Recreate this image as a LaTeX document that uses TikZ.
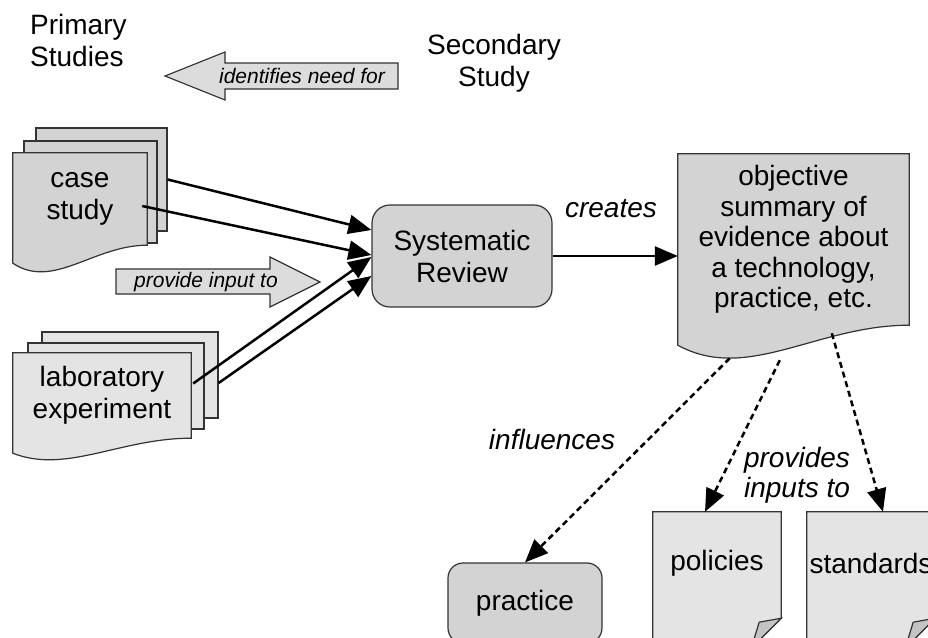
\documentclass[tikz,border=0pt]{standalone}
\usepackage{fontspec}
\setmainfont{Liberation Sans}
\usepackage{xcolor}
\usepackage{tikz}
\usetikzlibrary{arrows.meta}
\usetikzlibrary{positioning}
\usetikzlibrary{calc,backgrounds}

\definecolor{pagegray}{HTML}{D3D3D3}
\definecolor{lightpage}{HTML}{E4E4E4}
\definecolor{edgegray}{HTML}{333333}
\definecolor{foldgray}{HTML}{C4C4C4}
\definecolor{arrowgray}{HTML}{DCDCDC}

% outline of a document sheet with a wavy lower edge
\newcommand{\docoutline}[3]{(#1.north west) -- (#1.north east) -- (#1.south east)
  .. controls ($(#1.south east)!0.4!(#1.south west)$)
  and ($(#1.south west)!0.3!(#1.south east)+(0,#2+#3)$) .. ($(#1.south west)+(0,#2)$) -- cycle}

\begin{document}
\begin{tikzpicture}[x=1pt, y=-1pt,
  every node/.style={font=\fontsize{28}{32}\selectfont, align=center, inner sep=0pt},
  box/.style={draw=edgegray, line width=1.2pt, fill=pagegray, rounded corners=18pt},
  sheet/.style={draw=edgegray, line width=1.2pt, fill=#1},
  sheet/.default=pagegray,
  flow/.style={line width=2.5pt, -{Triangle[length=23pt,width=19pt]}},
  hint/.style={flow, dash pattern=on 6pt off 4pt},
  tag/.style={font=\fontsize{28}{30}\selectfont\itshape},
  bigarrow/.style={draw=edgegray, line width=1.2pt, fill=arrowgray},
  arrowtext/.style={font=\fontsize{21}{24}\selectfont\itshape}
]
\useasboundingbox (0,0) rectangle (928,637);

% headings
\node[anchor=west, align=left] (primary) at (30,40) {Primary\\Studies};
\node (secondary) at (494,63) {Secondary\\Study};

% main nodes
\node[minimum width=134pt, minimum height=92pt] (csfront) at (80,199) {case\\study};
\node[minimum width=178pt, minimum height=85pt] (labfront) at (102,395.5) {laboratory\\experiment};
\node[box, minimum width=180pt, minimum height=102pt] (review) at (462,256) {Systematic\\Review};
\node[minimum width=231pt, minimum height=171pt, font=\fontsize{28}{30.5}\selectfont]
  (summary) at (793.5,239.5) {objective\\summary of\\evidence about\\a technology,\\practice, etc.};
\node[box, rounded corners=15pt, minimum width=154pt, minimum height=80pt] (practice) at (525,603) {practice};
\node[minimum width=128pt, minimum height=102pt] (policies) at (717,563) {policies};
\node[minimum width=128pt, minimum height=102pt] (standards) at (871,563) {standards};

% sheets behind the texts
\begin{pgfonlayer}{background}
  \node[sheet, minimum width=131pt, minimum height=103pt] (csback) at (101.5,179.5) {};
  \node[sheet, minimum width=133pt, minimum height=102pt] (csmid) at (90.5,192) {};
  \path[sheet] \docoutline{csfront}{18}{27};
  \node[sheet=lightpage, minimum width=176pt, minimum height=86pt] (labback) at (130,375) {};
  \node[sheet=lightpage, minimum width=176pt, minimum height=86pt] (labmid) at (116,386) {};
  \path[sheet=lightpage] \docoutline{labfront}{15}{21};
  \path[sheet] \docoutline{summary}{20}{38};
  \foreach \p in {policies,standards}{
    \path[sheet=lightpage] (\p.north west) -- (\p.north east) -- ([yshift=-4pt]\p.south east)
      -- ++(-30,30) -- ([yshift=-40pt]\p.south west) -- cycle;
    \path[sheet=foldgray] ([yshift=-4pt]\p.south east) -- ++(-22,4) -- ++(-8,26) -- cycle;
  }
\end{pgfonlayer}

% block arrows
\draw[bigarrow] (398,63) -- (225,63) -- (225,52) -- (165,76) -- (225,100) -- (225,89) -- (398,89) -- cycle;
\node[arrowtext] (identifies) at (302,76) {identifies need for};
\draw[bigarrow] (116,269) -- (270,269) -- (270,257) -- (320,282) -- (270,307) -- (270,294) -- (116,294) -- cycle;
\node[arrowtext] (provide) at (206,282) {provide input to};

% inputs
\draw[flow] (csback.east) -- ([yshift=26pt]review.west);
\draw[flow] ([xshift=-5pt,yshift=-7pt]csfront.east) -- ([yshift=1pt]review.west);
\draw[flow] ([xshift=2pt,yshift=12pt]labfront.east) -- ([yshift=-1pt]review.west);
\draw[flow] ([yshift=-8pt]labback.east) -- ([yshift=-20pt]review.west);

% outputs
\draw[flow] (review.east) -- (review.east -| summary.west);
\node[tag] (creates) at (611,209) {creates};
\draw[hint] ([xshift=52pt,yshift=-33pt]summary.south west) -- (practice.north);
\draw[hint] ([xshift=102pt,yshift=-35pt]summary.south west) -- ([xshift=-12pt]policies.north);
\draw[hint] ([xshift=154pt,yshift=-8pt]summary.south west) -- ([xshift=12pt]standards.north);
\node[tag] (influences) at (552,439) {influences};
\node[tag, align=left] (provides) at (797,475) {provides\\inputs to};
\end{tikzpicture}
\end{document}
